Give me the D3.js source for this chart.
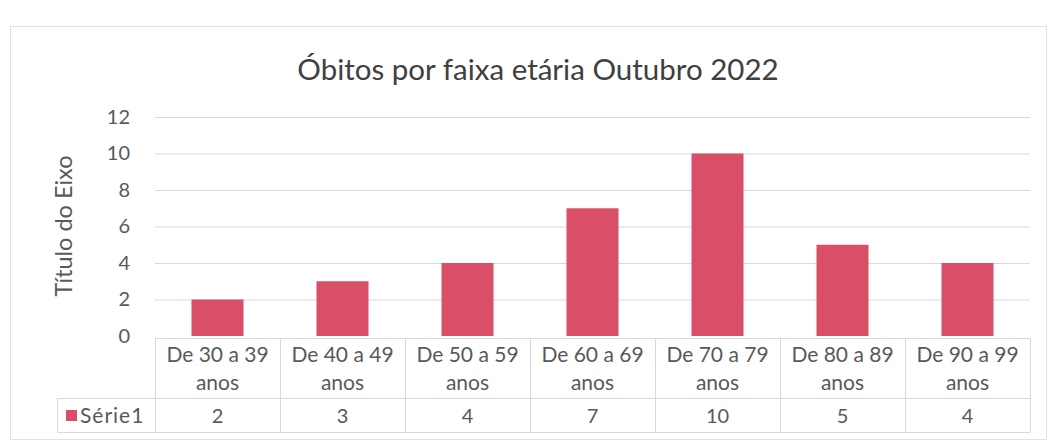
<!DOCTYPE html>
<html><head><meta charset="utf-8">
<script src="https://cdn.jsdelivr.net/npm/d3@7"></script>
<style>body{margin:0;background:#fff;} svg{display:block;}</style>
</head><body>
<script>
const categoriesLine1 = ["De 30 a 39","De 40 a 49","De 50 a 59","De 60 a 69","De 70 a 79","De 80 a 89","De 90 a 99"];
const categoriesLine2 = ["anos","anos","anos","anos","anos","anos","anos"];
const values = [2,3,4,7,10,5,4];
const yTicks = [0,2,4,6,8,10,12];
const seriesName = "Série1";
const titleText = "Óbitos por faixa etária Outubro 2022";
const axisTitle = "Título do Eixo";

const W=1056,H=446;
const font="Lato, 'Open Sans', sans-serif";
const txt="#595959", grid="#d9d9d9", barColor="#d94f68";
const svg=d3.select("body").append("svg").attr("width",W).attr("height",H);

svg.append("rect").attr("x",10.5).attr("y",26.5).attr("width",1036).attr("height",413)
  .attr("fill","#fff").attr("stroke","#e2e2e2");

svg.append("text").attr("x",538).attr("y",80).attr("text-anchor","middle")
  .attr("font-family",font).attr("font-size",29.5).attr("fill","#404040").text(titleText);

const x0=155,x1=1030;
const y=d3.scaleLinear().domain([0,12]).range([336,117]);
const xb=d3.scaleBand().domain(categoriesLine1).range([x0,x1]).padding(0);

// gridlines
const yAxis=d3.axisLeft(y).tickValues(yTicks).tickSize(-(x1-x0)).tickPadding(25);
const gy=svg.append("g").attr("transform",`translate(${x0},0)`).call(yAxis);
gy.select(".domain").remove();
gy.selectAll(".tick line").attr("stroke",grid);
gy.selectAll(".tick").filter(d=>d===0).select("line").remove();
gy.selectAll(".tick text").attr("font-family",font).attr("font-size",20).attr("fill",txt);

svg.append("text").attr("transform","translate(72,226) rotate(-90)").attr("text-anchor","middle")
  .attr("font-family",font).attr("font-size",23.5).attr("fill",txt).text(axisTitle);

// bars
const bw=52;
svg.append("g").selectAll("rect").data(values).join("rect")
  .attr("x",(d,i)=>xb(categoriesLine1[i])+xb.bandwidth()/2-bw/2)
  .attr("y",d=>y(d)).attr("width",bw).attr("height",d=>y(0)-y(d)).attr("fill",barColor);

// data table
const tTop=338.5,tMid=398.5,tBot=432.5,legL=57.5;
const tbl=svg.append("g").attr("stroke",grid).attr("fill","none");
tbl.append("line").attr("x1",x0).attr("x2",x1).attr("y1",tTop).attr("y2",tTop);
tbl.append("line").attr("x1",legL).attr("x2",x1).attr("y1",tMid).attr("y2",tMid);
tbl.append("line").attr("x1",legL).attr("x2",x1).attr("y1",tBot).attr("y2",tBot);
tbl.append("line").attr("x1",legL).attr("x2",legL).attr("y1",tMid).attr("y2",tBot);
const bounds=categoriesLine1.map(c=>xb(c)).concat([x1]);
tbl.selectAll("line.v").data(bounds).join("line").attr("class","v")
  .attr("x1",d=>Math.round(d)+0.5).attr("x2",d=>Math.round(d)+0.5).attr("y1",tTop).attr("y2",tBot);

const tg=svg.append("g").attr("font-family",font).attr("font-size",21).attr("fill",txt).attr("text-anchor","middle");
tg.selectAll("text.l1").data(categoriesLine1).join("text").attr("class","l1")
  .attr("x",d=>xb(d)+xb.bandwidth()/2).attr("y",362).text(d=>d);
tg.selectAll("text.l2").data(categoriesLine2).join("text").attr("class","l2")
  .attr("x",(d,i)=>xb(categoriesLine1[i])+xb.bandwidth()/2).attr("y",390).text(d=>d);
tg.selectAll("text.v").data(values).join("text").attr("class","v")
  .attr("x",(d,i)=>xb(categoriesLine1[i])+xb.bandwidth()/2).attr("y",423).attr("font-size",20).text(d=>d);

svg.append("rect").attr("x",66).attr("y",410).attr("width",11).attr("height",11).attr("fill",barColor);
svg.append("text").attr("x",80).attr("y",423).attr("font-family",font).attr("font-size",21)
  .attr("letter-spacing",1).attr("fill",txt).text(seriesName);
</script>
</body></html>
